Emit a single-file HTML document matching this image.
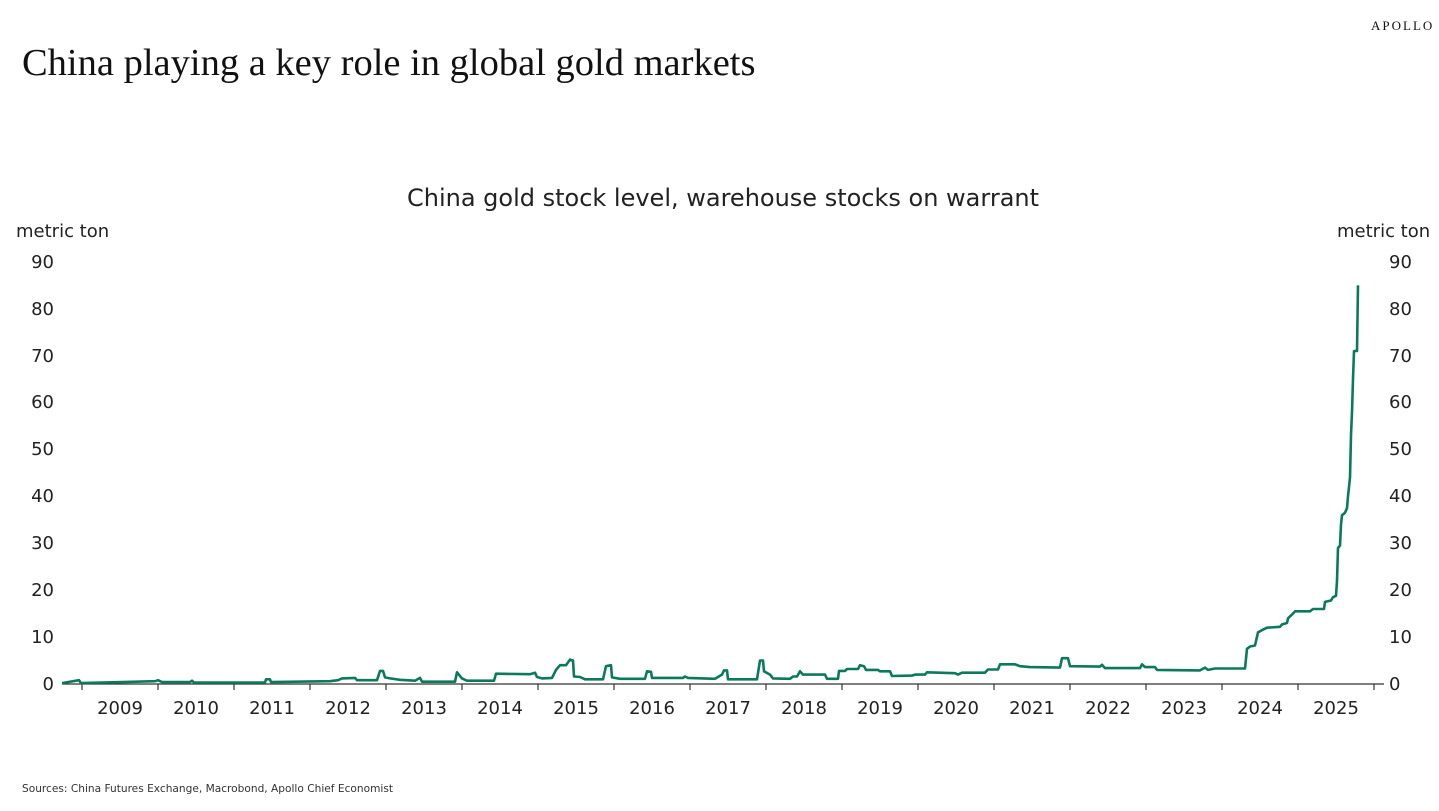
<!DOCTYPE html>
<html><head><meta charset="utf-8"><style>
body{margin:0;width:1439px;height:811px;background:#fff;overflow:hidden;position:relative;font-family:"DejaVu Sans","Liberation Sans",sans-serif;color:#222}
.t{position:absolute;white-space:nowrap}
</style></head><body>
<div class="t" style="left:1371px;top:18px;font-family:'Liberation Serif',serif;font-size:13px;letter-spacing:2px;color:#111">APOLLO</div>
<div class="t" style="left:22px;top:41px;font-family:'Liberation Serif',serif;font-size:38.5px;color:#111">China playing a key role in global gold markets</div>
<div class="t" style="left:0;width:1446px;text-align:center;top:184px;font-size:24px;color:#222">China gold stock level, warehouse stocks on warrant</div>
<div class="t" style="left:16px;top:221px;font-size:18px">metric ton</div>
<div class="t" style="left:1337px;top:221px;font-size:18px">metric ton</div>
<div class="t" style="left:22px;top:783px;font-size:10.6px;color:#333">Sources: China Futures Exchange, Macrobond, Apollo Chief Economist</div>
<svg width="1439" height="811" style="position:absolute;left:0;top:0" font-family="DejaVu Sans, Liberation Sans, sans-serif" font-size="18" fill="#222">
<g text-anchor="end">
<text x="54" y="690">0</text><text x="54" y="643">10</text><text x="54" y="596">20</text><text x="54" y="549">30</text><text x="54" y="502">40</text><text x="54" y="455">50</text><text x="54" y="408">60</text><text x="54" y="362">70</text><text x="54" y="315">80</text><text x="54" y="268">90</text>
</g>
<g text-anchor="start">
<text x="1389" y="690">0</text><text x="1389" y="643">10</text><text x="1389" y="596">20</text><text x="1389" y="549">30</text><text x="1389" y="502">40</text><text x="1389" y="455">50</text><text x="1389" y="408">60</text><text x="1389" y="362">70</text><text x="1389" y="315">80</text><text x="1389" y="268">90</text>
</g>
<line x1="62" y1="684" x2="1384" y2="684" stroke="#333" stroke-width="1.2"/>
<g stroke="#333" stroke-width="1.2" id="ticks"></g>
<g text-anchor="middle" id="yrs"></g>
<polyline id="ln" fill="none" stroke="#0b7a5c" stroke-width="2.6" stroke-linejoin="round"/>
</svg>
<script>
var ns="http://www.w3.org/2000/svg",tk=document.getElementById("ticks"),yr=document.getElementById("yrs");
for(var i=0;i<=17;i++){var x=82+76*i;var l=document.createElementNS(ns,"line");l.setAttribute("x1",x);l.setAttribute("x2",x);l.setAttribute("y1",684);l.setAttribute("y2",690);tk.appendChild(l);
if(i<17){var t=document.createElementNS(ns,"text");t.setAttribute("x",x+38);t.setAttribute("y",714);t.textContent=2009+i;yr.appendChild(t);}}
var d=[62,0.2,79,0.8,81,0.2,155,0.6,158,0.8,162,0.4,190,0.4,192,0.7,194,0.3,265,0.3,266,1,270,1,271,0.4,330,0.6,338,0.8,342,1.2,355,1.3,357,0.8,377,0.8,380,2.8,383,2.8,385,1.4,390,1.2,400,0.9,415,0.7,420,1.3,422,0.5,455,0.5,457,2.5,462,1.2,467,0.7,494,0.7,496,2.2,530,2.1,535,2.4,537,1.5,542,1.2,552,1.3,556,3,560,4,566,4,570,5.2,573,5,574,1.6,580,1.5,585,1,603,1,606,3.8,611,4,612,1.4,620,1.1,645,1.1,647,2.7,651,2.6,652,1.3,683,1.3,685,1.6,688,1.3,715,1.1,722,2,724,2.9,727,2.9,728,1,757,1,760,5,763,5,764,2.7,770,2,773,1.2,790,1.1,793,1.6,797,1.6,800,2.7,803,2,825,2,827,1.1,838,1.1,839,2.8,845,2.8,847,3.2,858,3.2,860,4,864,3.8,866,3,878,3,880,2.7,890,2.7,892,1.7,912,1.8,915,2,925,2,927,2.5,955,2.3,958,2,962,2.4,985,2.4,988,3.1,998,3.1,1000,4.2,1015,4.2,1020,3.8,1030,3.6,1060,3.5,1062,5.5,1068,5.5,1070,3.8,1100,3.7,1102,4.1,1105,3.4,1140,3.4,1142,4.2,1145,3.6,1155,3.6,1157,3,1200,2.9,1205,3.5,1208,3,1215,3.3,1245,3.3,1247,7.5,1250,8,1255,8.2,1258,11,1262,11.5,1267,12,1280,12.2,1282,12.7,1287,13,1288,14,1293,15,1295,15.5,1310,15.5,1313,16,1324,16,1325,17.5,1331,17.8,1333,18.5,1336,18.8,1337,22,1338,29,1340,29.5,1341,34,1342,36,1345,36.5,1347,37.5,1348,40,1350,44,1351,53,1352,58,1353,65,1354,71,1357,71,1358,85];
var p=[];for(var j=0;j<d.length;j+=2)p.push(d[j]+","+(684-4.69*d[j+1]).toFixed(1));
document.getElementById("ln").setAttribute("points",p.join(" "));
</script>
</body></html>
